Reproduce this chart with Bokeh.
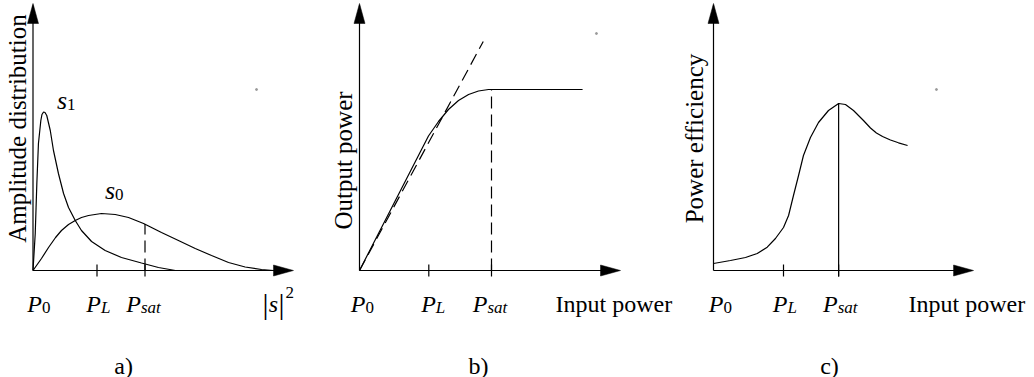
import math
from bokeh.plotting import figure
from bokeh.layouts import row
from bokeh.models import Range1d
from bokeh.core.properties import value
from bokeh.embed import file_html
from bokeh.resources import INLINE

# ---------------- data (schematic units) ----------------
tick_names = ["0", "L", "sat"]                      # P_0, P_L, P_sat
y_titles = ["Amplitude distribution", "Output power", "Power efficiency"]
x_titles = ["|s|2", "Input power", "Input power"]
panel_tags = ["a)", "b)", "c)"]

# panel a) amplitude distributions
a_ticks = [0.0, 4.0, 7.0]
s1_x = [0.00, 0.14, 0.19, 0.24, 0.34, 0.49, 0.56, 0.66, 0.75, 0.86, 1.08, 1.28, 1.59,
        1.91, 2.22, 2.64, 3.03, 3.66, 4.51, 5.53, 6.78, 7.84, 8.90]
s1_y = [0.00, 0.37, 0.62, 0.87, 1.27, 1.50, 1.56, 1.585, 1.58, 1.55, 1.40, 1.20, 0.97,
        0.77, 0.63, 0.50, 0.40, 0.29, 0.20, 0.13, 0.075, 0.03, 0.00]
s0_x = [0.00, 0.53, 0.97, 1.41, 1.78, 2.22, 2.64, 3.03, 3.47, 4.28, 5.14, 5.97, 6.91,
        8.03, 9.09, 10.14, 11.16, 12.22, 13.26, 14.28, 15.03]
s0_y = [0.00, 0.12, 0.23, 0.33, 0.40, 0.46, 0.50, 0.53, 0.55, 0.57, 0.56, 0.53, 0.47,
        0.38, 0.30, 0.22, 0.15, 0.08, 0.035, 0.01, 0.00]
a_sat_level = 0.465
a_x_end = 16.28
a_dot = (13.97, 1.81)

# panel b) output power
b_ticks = [0.0, 4.2, 8.0]
out_x = [0.0, 0.606, 1.212, 1.818, 2.424, 3.03, 3.636, 4.18, 4.79, 5.39, 6.0, 6.61,
         7.21, 7.82, 13.52]
out_y = [0.0, 0.195, 0.39, 0.585, 0.78, 0.975, 1.17, 1.345, 1.49, 1.61, 1.70, 1.76,
         1.795, 1.81, 1.81]
lin_x = [0.0, 7.5]
lin_y = [0.0, 2.29]
b_sat_level = 1.81
b_x_end = 15.82
b_dot = (14.36, 2.37)

# panel c) power efficiency
c_ticks = [0.0, 4.0, 7.15]
eff_x = [0.00, 0.97, 1.83, 2.50, 3.07, 3.54, 4.00, 4.29, 4.57, 4.86, 5.14, 5.54, 6.00,
         6.57, 7.15, 7.54, 8.00, 8.57, 8.97, 9.31, 9.66, 10.11, 10.57, 11.09]
eff_y = [0.07, 0.10, 0.13, 0.17, 0.233, 0.32, 0.43, 0.55, 0.75, 0.95, 1.15, 1.33, 1.48,
         1.60, 1.67, 1.66, 1.60, 1.50, 1.425, 1.375, 1.34, 1.305, 1.277, 1.25]
c_sat_level = 1.67
c_x_end = 14.86
c_dot = (12.74, 1.81)

Y_TOP = 2.67

# ---------------- layout / style ----------------
FONT = "Liberation Serif"
FS = 24
FS_TITLE = 25
FS_S = 26
FS_SUB = 17
LW = 1.2
H = 377
TOP_PX, BOTTOM_PX, AXIS_PX = 0, 377, 270
UY = 100.0
HEAD_L, HEAD_W = 20, 11


def make_panel(left, right, origin, ux):
    p = figure(width=right - left, height=H,
               x_range=Range1d((left - origin) / ux, (right - origin) / ux),
               y_range=Range1d((AXIS_PX - BOTTOM_PX) / UY, (AXIS_PX - TOP_PX) / UY),
               output_backend="svg", toolbar_location=None,
               x_axis_location=None, y_axis_location=None, min_border=0)
    p.outline_line_color = None
    p.grid.visible = False
    p.background_fill_color = "white"
    p.border_fill_color = "white"
    return p


def txt(p, x, y, s, size=FS, italic=False, align="left", baseline="alphabetic", angle=0.0):
    p.text(x=x, y=y, text=s, text_font=value(FONT), text_font_size=f"{size}px",
           text_font_style="italic" if italic else "normal", text_color="black",
           text_align=align, text_baseline=baseline, angle=angle)


def axes(p, ux, x_end, ticks, junctions):
    p.line([0, x_end - 2 / ux], [0, 0], line_color="black", line_width=LW)
    p.line([0, 0], [0, Y_TOP - 2 / UY], line_color="black", line_width=LW)
    p.patches(xs=[[x_end, x_end - HEAD_L / ux, x_end - HEAD_L / ux],
                  [0, -HEAD_W / 2 / ux, HEAD_W / 2 / ux]],
              ys=[[0, HEAD_W / 2 / UY, -HEAD_W / 2 / UY],
                  [Y_TOP, Y_TOP - HEAD_L / UY, Y_TOP - HEAD_L / UY]],
              fill_color="black", line_color="black", line_width=0.5)
    p.segment(x0=ticks[1:], y0=[-6 / UY] * 2, x1=ticks[1:], y1=[6 / UY] * 2,
              line_color="black", line_width=LW)
    jx = [t + j / ux for t, j in zip(ticks, junctions)]
    txt(p, jx, [-(303 - AXIS_PX) / UY] * 3, ["P"] * 3, italic=True, align="right")
    txt(p, jx[:1], [-(307 - AXIS_PX) / UY], tick_names[:1], size=FS_SUB)
    txt(p, jx[1:], [-(307 - AXIS_PX) / UY] * 2, tick_names[1:], size=FS_SUB, italic=True)


def titles(p, ux, i, ylab_dx, ylab_y, tag_x):
    txt(p, [ylab_dx / ux], [ylab_y], [y_titles[i]], size=FS_TITLE, align="center",
        baseline="middle", angle=math.pi / 2)
    txt(p, [tag_x], [-(365 - AXIS_PX) / UY], [panel_tags[i]], align="center")


# ---------------- panel a ----------------
UXA, OA = 16.0, 32.5
pa = make_panel(0, 318, OA, UXA)
axes(pa, UXA, a_x_end, a_ticks, [9, 4, -4])
pa.line(s1_x, s1_y, line_color="black", line_width=LW)
pa.line(s0_x, s0_y, line_color="black", line_width=LW)
pa.line([a_ticks[2], a_ticks[2]], [0, a_sat_level], line_color="black",
        line_width=LW, line_dash="12 6")
pa.scatter([a_dot[0]], [a_dot[1]], size=2, color="#999999")
titles(pa, UXA, 0, -15.5, 1.42, 5.66)
# s_1 and s_0 labels
txt(pa, [2.13], [(AXIS_PX - 100) / UY], ["s"], size=FS_S, italic=True, align="right")
txt(pa, [2.13], [(AXIS_PX - 104) / UY], ["1"], size=FS_SUB)
txt(pa, [5.13], [(AXIS_PX - 190) / UY], ["s"], size=FS_S, italic=True, align="right")
txt(pa, [5.13], [(AXIS_PX - 194) / UY], ["0"], size=FS_SUB)
# |s|^2
ex = a_x_end
txt(pa, [ex - 28 / UXA, ex - 12 / UXA], [-(303 - AXIS_PX) / UY] * 2, ["|", "|"],
    size=30, align="center")
txt(pa, [ex - 20 / UXA], [-(303 - AXIS_PX) / UY], ["s"], italic=True, align="center")
txt(pa, [ex - 8 / UXA], [-(292 - AXIS_PX) / UY], ["2"], size=FS_SUB)

# ---------------- panel b ----------------
UXB, OB = 16.5, 359.0
pb = make_panel(318, 676, OB, UXB)
axes(pb, UXB, b_x_end, b_ticks, [6, 7, -4])
pb.line(lin_x, lin_y, line_color="black", line_width=LW, line_dash="12 6")
pb.line(out_x, out_y, line_color="black", line_width=LW)
pb.line([b_ticks[2], b_ticks[2]], [0, b_sat_level], line_color="black",
        line_width=LW, line_dash="12 6")
pb.scatter([b_dot[0]], [b_dot[1]], size=2, color="#999999")
titles(pb, UXB, 1, -16, 1.10, 7.21)
txt(pb, [b_x_end - 65 / UXB], [-(303 - AXIS_PX) / UY], [x_titles[1]])

# ---------------- panel c ----------------
UXC, OC = 17.5, 713.0
pc = make_panel(676, 1034, OC, UXC)
axes(pc, UXC, c_x_end, c_ticks, [10, 4, -1])
pc.line(eff_x, eff_y, line_color="black", line_width=LW)
pc.line([c_ticks[2], c_ticks[2]], [-6 / UY, c_sat_level], line_color="black", line_width=LW)
pc.scatter([c_dot[0]], [c_dot[1]], size=2, color="#999999")
titles(pc, UXC, 2, -19, 1.32, 6.63)
txt(pc, [c_x_end - 65 / UXC], [-(303 - AXIS_PX) / UY], [x_titles[2]])

layout = row(pa, pb, pc)
open("out.html", "w").write(file_html(layout, INLINE))
